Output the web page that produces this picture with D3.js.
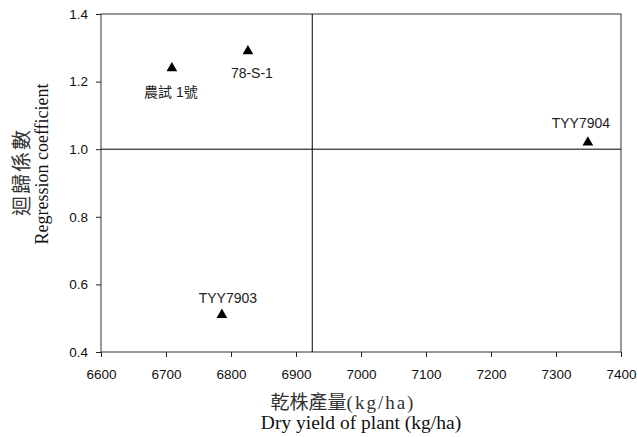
<!DOCTYPE html>
<html>
<head>
<meta charset="utf-8">
<script src="https://cdn.jsdelivr.net/npm/d3@7"></script>
<style>
  body { margin: 0; background: #fff; }
  svg { display: block; }
</style>
</head>
<body>
<svg id="chart" width="637" height="437"></svg>
<script>
// ---- data ----
const cultivars = ["農試 1號", "78-S-1", "TYY7904", "TYY7903"];
const dryYield = [6709, 6826, 7349, 6786];
const regCoef = [1.24, 1.29, 1.02, 0.51];
const xTicks = [6600, 6700, 6800, 6900, 7000, 7100, 7200, 7300, 7400];
const yTicks = [0.4, 0.6, 0.8, 1.0, 1.2, 1.4];
const meanYield = 6925;
const meanCoef = 1.0;

// label placement relative to marker (dx, dy) — layout only
const labelOffsets = [[-1, 25], [4, 23], [-7, -18], [6, -16]];

const svg = d3.select("#chart");
const x = d3.scaleLinear().domain([6600, 7400]).range([101, 621]);
const y = d3.scaleLinear().domain([0.4, 1.4]).range([352, 14]);

const sans = "'Liberation Sans', Arial, sans-serif";

// x axis
const xAxis = svg.append("g")
  .attr("transform", `translate(0,${y(0.4)})`)
  .call(d3.axisBottom(x).tickValues(xTicks).tickSize(5).tickPadding(12).tickFormat(d3.format("d")));
xAxis.select(".domain").remove();
xAxis.selectAll("text").attr("font-family", sans).attr("font-size", 13.5).attr("fill", "#111");
xAxis.selectAll("line").attr("stroke", "#222");

// y axis
const yAxis = svg.append("g")
  .attr("transform", `translate(${x(6600)},0)`)
  .call(d3.axisLeft(y).tickValues(yTicks).tickSize(5).tickPadding(8).tickFormat(d3.format(".1f")));
yAxis.select(".domain").remove();
yAxis.selectAll("text").attr("font-family", sans).attr("font-size", 13.5).attr("fill", "#111");
yAxis.selectAll("line").attr("stroke", "#222");

// frame
svg.append("rect")
  .attr("x", x(6600)).attr("y", y(1.4))
  .attr("width", x(7400) - x(6600)).attr("height", y(0.4) - y(1.4))
  .attr("fill", "none").attr("stroke", "#333").attr("stroke-width", 1);

// reference lines
svg.append("line")
  .attr("x1", x(meanYield)).attr("x2", x(meanYield))
  .attr("y1", y(1.4)).attr("y2", y(0.4))
  .attr("stroke", "#000").attr("stroke-width", 1);
svg.append("line")
  .attr("x1", x(6600)).attr("x2", x(7400))
  .attr("y1", y(meanCoef)).attr("y2", y(meanCoef))
  .attr("stroke", "#000").attr("stroke-width", 1);

// markers
const tri = d3.symbol().type(d3.symbolTriangle).size(50);
const pts = cultivars.map((c, i) => ({ name: c, xv: dryYield[i], yv: regCoef[i], off: labelOffsets[i] }));
svg.selectAll("path.pt").data(pts).enter().append("path")
  .attr("class", "pt")
  .attr("d", tri)
  .attr("transform", d => `translate(${x(d.xv)},${y(d.yv)})`)
  .attr("fill", "#000");

svg.selectAll("text.lbl").data(pts).enter().append("text")
  .attr("class", "lbl")
  .attr("x", d => x(d.xv) + d.off[0])
  .attr("y", d => y(d.yv) + d.off[1])
  .attr("text-anchor", "middle")
  .attr("dominant-baseline", "middle")
  .attr("font-family", "'Liberation Sans', Arial, 'Noto Sans CJK TC', sans-serif")
  .attr("font-size", 14)
  .attr("fill", "#222")
  .text(d => d.name);

// axis titles
const serifCJK = "'Liberation Serif', 'Times New Roman', 'Noto Sans CJK TC', serif";
svg.append("text")
  .attr("x", 343).attr("y", 409)
  .attr("text-anchor", "middle")
  .attr("font-family", serifCJK)
  .attr("font-size", 19)
  .attr("fill", "#333")
  .html('乾株產量<tspan letter-spacing="2">(kg/ha)</tspan>');
svg.append("text")
  .attr("x", 361).attr("y", 429)
  .attr("text-anchor", "middle")
  .attr("font-family", serifCJK)
  .attr("font-size", 19.5)
  .attr("fill", "#111")
  .text("Dry yield of plant (kg/ha)");

svg.append("text")
  .attr("transform", "translate(29,172) rotate(-90)")
  .attr("text-anchor", "middle")
  .attr("font-family", serifCJK)
  .attr("font-size", 20)
  .attr("letter-spacing", 2)
  .attr("fill", "#333")
  .text("迴歸係數");
svg.append("text")
  .attr("transform", "translate(48,164) rotate(-90)")
  .attr("text-anchor", "middle")
  .attr("font-family", serifCJK)
  .attr("font-size", 18)
  .attr("fill", "#111")
  .text("Regression coefficient");
</script>
</body>
</html>
